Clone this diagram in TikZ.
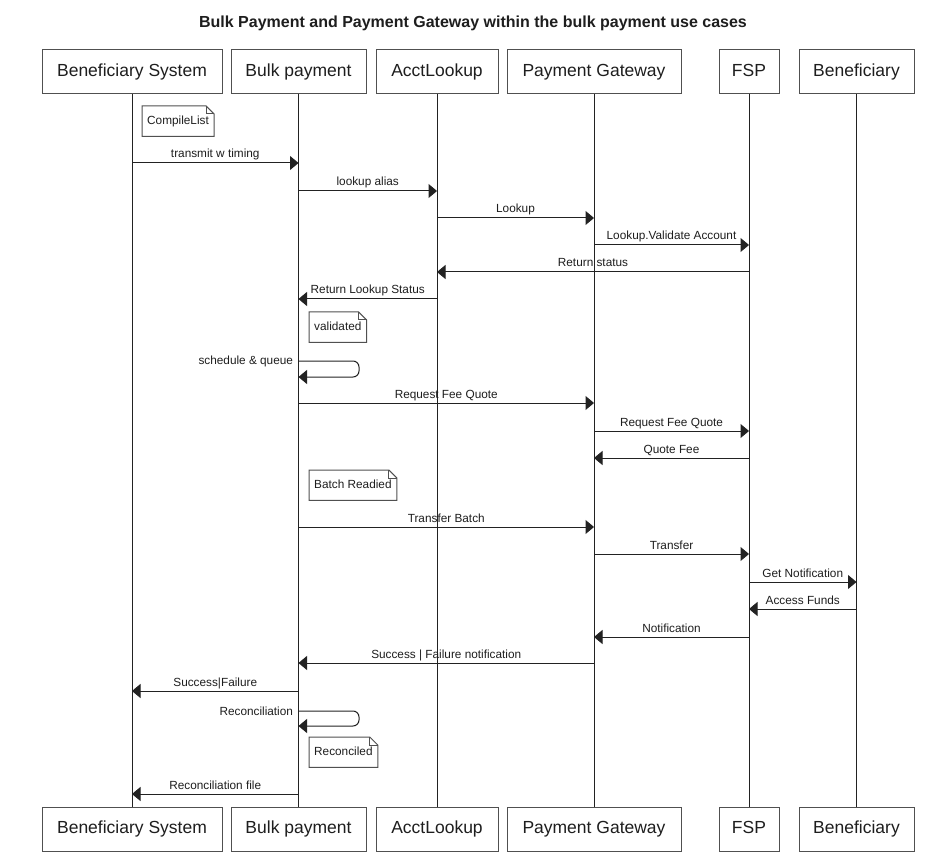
\documentclass[tikz,border=0pt]{standalone}
\usepackage{fontspec}
\setmainfont{Liberation Sans}
\usetikzlibrary{arrows.meta,calc}
\definecolor{ln}{HTML}{222222}
\definecolor{bx}{HTML}{505050}
\definecolor{tx}{HTML}{1E1E1E}
\newcommand\seqmsg[4]{\draw[msg] (#1T |- 0,#3) -- (#2T |- 0,#3) node[lbl, midway, yshift=5pt] {#4};}
\newcommand\seqself[4]{\draw[msg, rounded corners=6pt] (#1T |- 0,#2) node[lbl, anchor=base east, xshift=-5pt, yshift=-4pt] {#4} -- (359,#2) -- (359,#3) -- (#1T |- 0,#3);}
\newcommand\seqnote[4]{%
  \node[notebox] (#1) at (#2,#3) {#4};
  \draw[draw=bx, line width=1pt] (#1.north west) -- ($(#1.north east)+(-8,0)$) -- ($(#1.north east)+(0,8)$) -- (#1.south east) -- (#1.south west) -- cycle;
  \draw[draw=bx, line width=1pt] ($(#1.north east)+(-8,0)$) |- ($(#1.north east)+(0,8)$);}
\begin{document}
\begin{tikzpicture}[x=1pt,y=-1pt,
  part/.style={draw=bx, line width=1pt, fill=white, minimum height=44pt, inner sep=0pt, text height=12.6pt, text depth=3.6pt, font=\fontsize{17.5}{20}\selectfont, text=tx},
  life/.style={draw=ln, line width=1pt},
  msg/.style={draw=ln, line width=1pt, -{Triangle[length=8.5pt,width=14pt]}},
  lbl/.style={font=\fontsize{11.8}{14}\selectfont, text=tx, inner sep=0pt, anchor=base},
  notebox/.style={font=\fontsize{11.8}{14}\selectfont, text=tx, inner xsep=5pt, inner ysep=0pt, text height=8.5pt, text depth=2.5pt, minimum height=30pt, anchor=north west},
]
\useasboundingbox (0,0) rectangle (946,861);
\fill[white] (0,0) rectangle (946,861);
\node[font=\bfseries\fontsize{16}{19}\selectfont, text=tx] (title) at (473,23) {Bulk Payment and Payment Gateway within the bulk payment use cases};
% participants top
\node[part, minimum width=180pt] (bsT) at (132,72) {Beneficiary System};
\node[part, minimum width=135pt] (bpT) at (298.5,72) {Bulk payment};
\node[part, minimum width=122pt] (alT) at (437,72) {AcctLookup};
\node[part, minimum width=174pt] (pgT) at (594,72) {Payment Gateway};
\node[part, minimum width=60pt] (fsT) at (749,72) {FSP};
\node[part, minimum width=115pt] (bnT) at (856.5,72) {Beneficiary};
% participants bottom
\node[part, minimum width=180pt] (bsB) at (132,829) {Beneficiary System};
\node[part, minimum width=135pt] (bpB) at (298.5,829) {Bulk payment};
\node[part, minimum width=122pt] (alB) at (437,829) {AcctLookup};
\node[part, minimum width=174pt] (pgB) at (594,829) {Payment Gateway};
\node[part, minimum width=60pt] (fsB) at (749,829) {FSP};
\node[part, minimum width=115pt] (bnB) at (856.5,829) {Beneficiary};
% lifelines
\foreach \p in {bs,bp,al,pg,fs,bn}{\draw[life] (\p T.south) -- (\p B.north);}
% sequence
\seqnote{n1}{142}{106}{CompileList}
\seqmsg{bs}{bp}{163}{transmit w timing}
\seqmsg{bp}{al}{191}{lookup alias}
\seqmsg{al}{pg}{218}{Lookup}
\seqmsg{pg}{fs}{245}{Lookup.Validate Account}
\seqmsg{fs}{al}{272}{Return status}
\seqmsg{al}{bp}{299}{Return Lookup Status}
\seqnote{n2}{309}{312}{validated}
\seqself{bp}{361}{377}{schedule \& queue}
\seqmsg{bp}{pg}{403}{Request Fee Quote}
\seqmsg{pg}{fs}{431}{Request Fee Quote}
\seqmsg{fs}{pg}{458}{Quote Fee}
\seqnote{n3}{309}{470}{Batch Readied}
\seqmsg{bp}{pg}{527}{Transfer Batch}
\seqmsg{pg}{fs}{554}{Transfer}
\seqmsg{fs}{bn}{582}{Get Notification}
\seqmsg{bn}{fs}{609}{Access Funds}
\seqmsg{fs}{pg}{637}{Notification}
\seqmsg{pg}{bp}{663}{Success | Failure notification}
\seqmsg{bp}{bs}{691}{Success|Failure}
\seqself{bp}{711}{726}{Reconciliation}
\seqnote{n4}{309}{737}{Reconciled}
\seqmsg{bp}{bs}{794}{Reconciliation file}
\end{tikzpicture}
\end{document}
